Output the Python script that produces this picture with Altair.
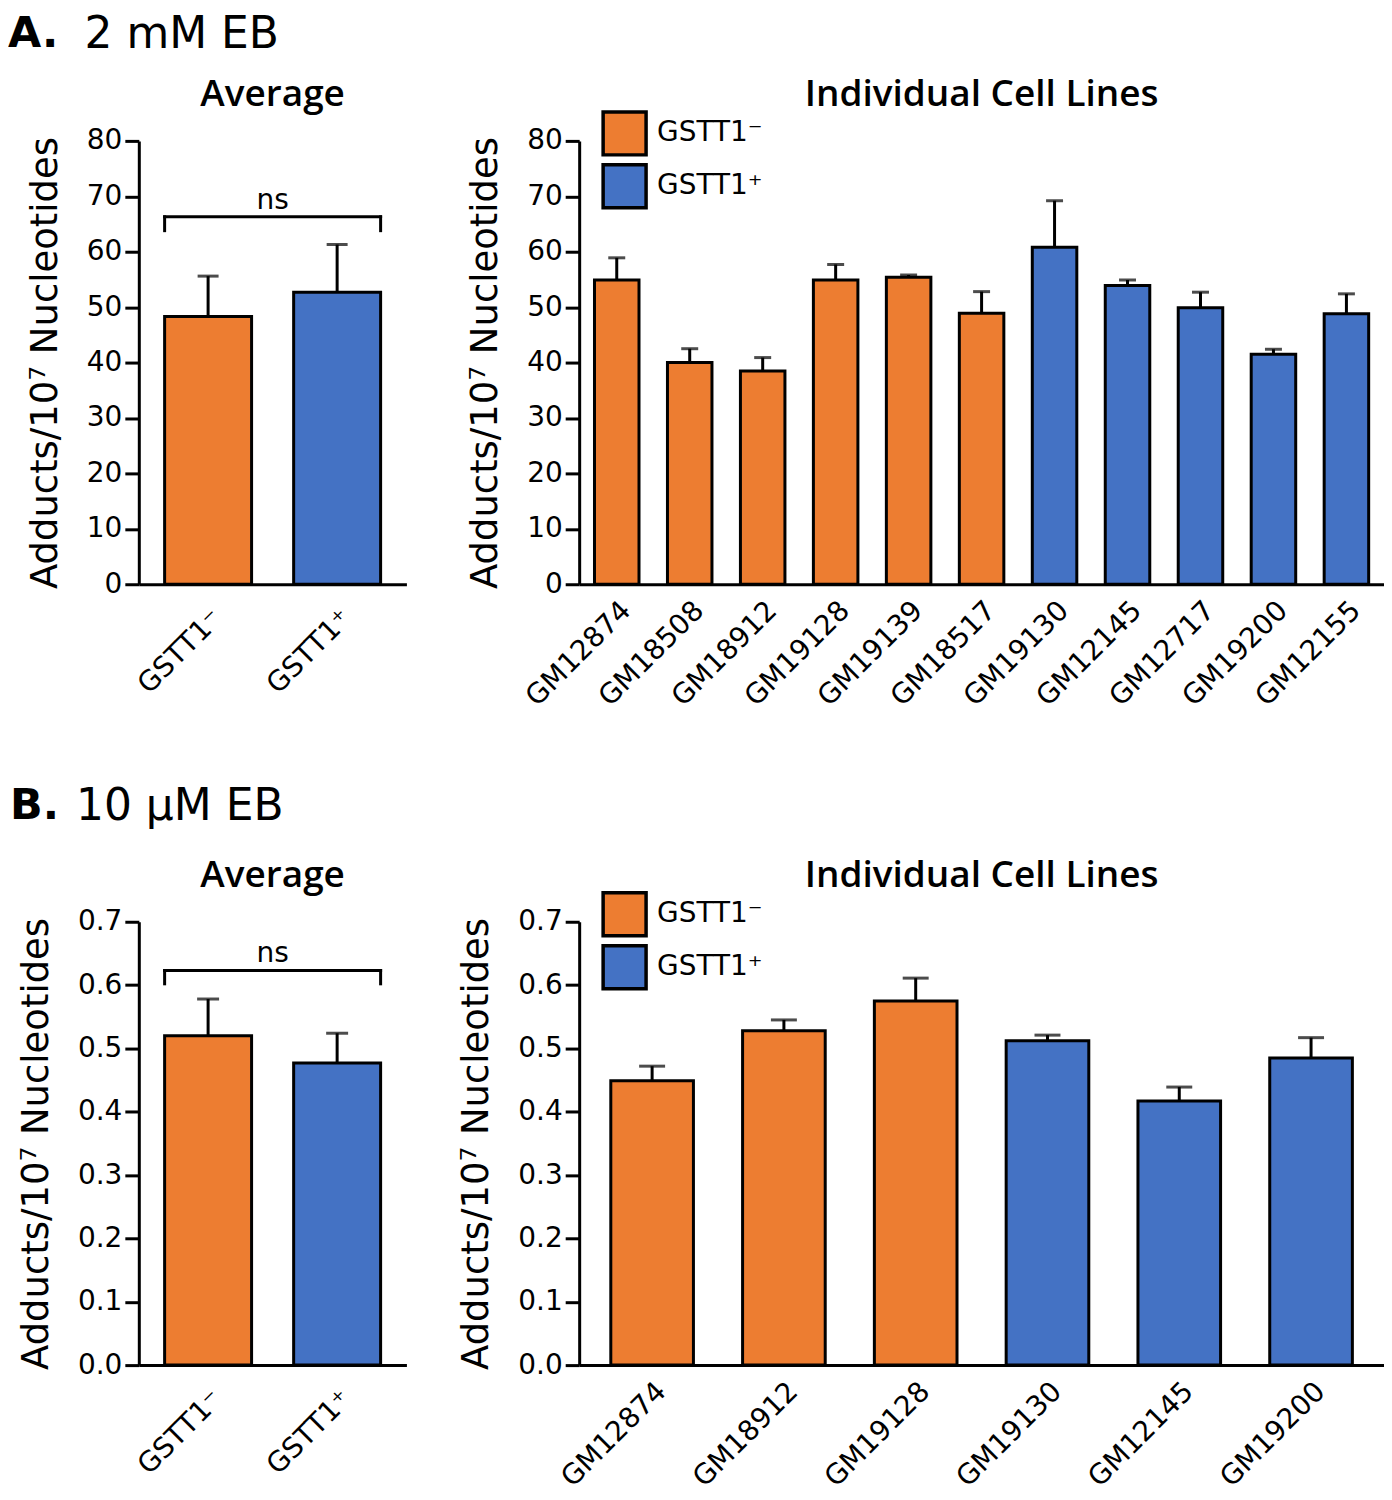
import altair as alt
import pandas as pd

FONT = "DejaVu Sans"
TFONT = "Open Sans"
ORANGE = "#ED7D31"
BLUE = "#4472C4"

genotypes = ["GSTT1⁻", "GSTT1⁺"]
geno_colors = [ORANGE, BLUE]
y_title = "Adducts/10⁷ Nucleotides"

# ---- A. 2 mM EB ----
a_avg_mean = [48.3, 52.7]
a_avg_sem = [7.3, 8.6]
a_cells = ["GM12874", "GM18508", "GM18912", "GM19128", "GM19139", "GM18517",
           "GM19130", "GM12145", "GM12717", "GM19200", "GM12155"]
a_cell_geno = ["GSTT1⁻", "GSTT1⁻", "GSTT1⁻", "GSTT1⁻", "GSTT1⁻", "GSTT1⁻",
               "GSTT1⁺", "GSTT1⁺", "GSTT1⁺", "GSTT1⁺", "GSTT1⁺"]
a_cell_mean = [54.9, 40.0, 38.5, 54.9, 55.4, 48.9, 60.8, 53.9, 49.9, 41.5, 48.8]
a_cell_sem = [4.0, 2.5, 2.4, 2.8, 0.4, 3.9, 8.4, 1.0, 2.8, 0.9, 3.6]
a_ticks = [0, 10, 20, 30, 40, 50, 60, 70, 80]
a_ymax = 80
a_bracket = [66.3, 63.8, 67.7]   # bracket line, bracket ends, "ns" baseline

# ---- B. 10 µM EB ----
b_avg_mean = [0.520, 0.477]
b_avg_sem = [0.058, 0.047]
b_cells = ["GM12874", "GM18912", "GM19128", "GM19130", "GM12145", "GM19200"]
b_cell_geno = ["GSTT1⁻", "GSTT1⁻", "GSTT1⁻", "GSTT1⁺", "GSTT1⁺", "GSTT1⁺"]
b_cell_mean = [0.449, 0.528, 0.575, 0.512, 0.417, 0.485]
b_cell_sem = [0.023, 0.017, 0.036, 0.009, 0.022, 0.032]
b_ticks = [0.0, 0.1, 0.2, 0.3, 0.4, 0.5, 0.6, 0.7]
b_ymax = 0.7
b_bracket = [0.623, 0.602, 0.637]

H = 444
W_AVG = 268
W_IND = 806


def panel(cats, genos, means, sems, ticks, ymax, fmt, W, pi, po, cap, lab_pad,
          title_text, legend=False, bracket=None, section=None):
    df = pd.DataFrame({"cat": cats, "geno": genos, "mean": means,
                       "upper": [m + s for m, s in zip(means, sems)]})
    xs = alt.Scale(domain=cats, paddingInner=pi, paddingOuter=po)
    ys = alt.Scale(domain=[0, ymax], nice=False, zero=True)
    x_axis = alt.Axis(title=None, labelAngle=-45, labelFontSize=28, labelFont=FONT,
                      labelColor="black", labelPadding=lab_pad, ticks=False,
                      domainWidth=3, domainColor="black", labelAlign="right",
                      labelBaseline="top")
    y_axis = alt.Axis(values=ticks, format=fmt, title=y_title, titleFont=FONT,
                      titleFontSize=37, titleFontWeight="normal", titleColor="black",
                      titlePadding=22, labelFont=FONT, labelFontSize=28,
                      labelColor="black", labelPadding=3, tickSize=14, tickWidth=3,
                      tickColor="black", domainWidth=3, domainColor="black",
                      grid=False)
    X = alt.X("cat:N", scale=xs, axis=x_axis)
    if legend:
        leg = alt.Legend(orient="none", legendX=22, legendY=-31, title=None,
                         symbolType="square", symbolSize=1850,
                         symbolStrokeColor="black", symbolStrokeWidth=3.5,
                         symbolOpacity=1, labelFont=FONT, labelFontSize=28,
                         labelColor="black", labelOffset=9, rowPadding=-6,
                         padding=0)
    else:
        leg = None
    color = alt.Color("geno:N", scale=alt.Scale(domain=genotypes, range=geno_colors),
                      legend=leg)
    base = alt.Chart(df)
    err = base.mark_rule(strokeWidth=3, color="black").encode(
        x=X, y=alt.Y("mean:Q", scale=ys, axis=y_axis), y2="upper:Q")
    caps = base.mark_tick(thickness=3, size=cap, color="black").encode(
        x=X, y=alt.Y("upper:Q", scale=ys, axis=y_axis))
    bars = base.mark_bar(stroke="black", strokeWidth=3, opacity=1).encode(
        x=X, y=alt.Y("mean:Q", scale=ys, axis=y_axis), color=color)
    layers = [err, bars, caps]

    if bracket is not None:
        bdf = pd.DataFrame({"g1": [cats[0]], "g2": [cats[-1]], "yb": [bracket[0]],
                            "yl": [bracket[1]], "ny": [bracket[2]], "lab": ["ns"]})
        bb = alt.Chart(bdf)
        hline = bb.mark_rule(strokeWidth=3, color="black", strokeCap="square").encode(
            x=alt.X("g1:N", bandPosition=0, scale=xs, axis=x_axis),
            x2=alt.X2("g2:N", bandPosition=1),
            y=alt.Y("yb:Q", scale=ys, axis=y_axis))
        lv = bb.mark_rule(strokeWidth=3, color="black", strokeCap="square").encode(
            x=alt.X("g1:N", bandPosition=0, scale=xs, axis=x_axis),
            y=alt.Y("yb:Q", scale=ys, axis=y_axis), y2="yl:Q")
        rv = bb.mark_rule(strokeWidth=3, color="black", strokeCap="square").encode(
            x=alt.X("g2:N", bandPosition=1, scale=xs, axis=x_axis),
            y=alt.Y("yb:Q", scale=ys, axis=y_axis), y2="yl:Q")
        ns = bb.mark_text(font=FONT, fontSize=28, color="black", align="center",
                          baseline="alphabetic").encode(
            x=alt.value(W / 2), y=alt.Y("ny:Q", scale=ys, axis=y_axis), text="lab:N")
        layers += [hline, lv, rv, ns]

    tdf = pd.DataFrame({"t": [title_text]})
    ttl = alt.Chart(tdf).mark_text(font=TFONT, fontSize=37, fontWeight=600,
                                   color="black", align="center",
                                   baseline="alphabetic").encode(
        x=alt.value(W / 2), y=alt.value(-35), text="t:N")
    layers.append(ttl)

    if section is not None:
        letter, rest, top_y, lx, rx = section
        sdf1 = pd.DataFrame({"t": [letter]})
        sdf2 = pd.DataFrame({"t": [rest]})
        s1 = alt.Chart(sdf1).mark_text(font=FONT, fontSize=43, fontWeight="bold",
                                       color="black", align="left",
                                       baseline="top").encode(
            x=alt.value(lx), y=alt.value(top_y), text="t:N")
        s2 = alt.Chart(sdf2).mark_text(font=FONT, fontSize=44, fontWeight="normal",
                                       color="black", align="center",
                                       baseline="top").encode(
            x=alt.value(rx), y=alt.value(top_y), text="t:N")
        layers += [s1, s2]

    return alt.layer(*layers).properties(width=W, height=H)


a_avg = panel(genotypes, genotypes, a_avg_mean, a_avg_sem, a_ticks, a_ymax, "d",
              W_AVG, 0.326, 0.2, 21, 20, "Average", bracket=a_bracket,
              section=("A.", "2 mM EB", -128, -131, 43))
a_ind = panel(a_cells, a_cell_geno, a_cell_mean, a_cell_sem, a_ticks, a_ymax, "d",
              W_IND, 0.39, 0.21, 17, 12, "Individual Cell Lines", legend=True)
b_avg = panel(genotypes, genotypes, b_avg_mean, b_avg_sem, b_ticks, b_ymax, ".1f",
              W_AVG, 0.326, 0.2, 22, 20, "Average", bracket=b_bracket,
              section=("B.", "10 µM EB", -137, -129, 41))
b_ind = panel(b_cells, b_cell_geno, b_cell_mean, b_cell_sem, b_ticks, b_ymax, ".1f",
              W_IND, 0.373, 0.24, 26, 12, "Individual Cell Lines", legend=True)

chart = alt.concat(a_avg, a_ind, b_avg, b_ind, columns=2,
                   spacing={"row": 338, "column": 173}, bounds="flush").resolve_scale(
    color="independent", x="independent", y="independent"
).resolve_legend(color="independent").properties(
    padding={"top": 4, "left": 0, "right": 0, "bottom": 0}
).configure(font=FONT).configure_view(strokeWidth=0, stroke="transparent")

chart.save("out.html", embed_options={"renderer": "svg", "actions": False})
